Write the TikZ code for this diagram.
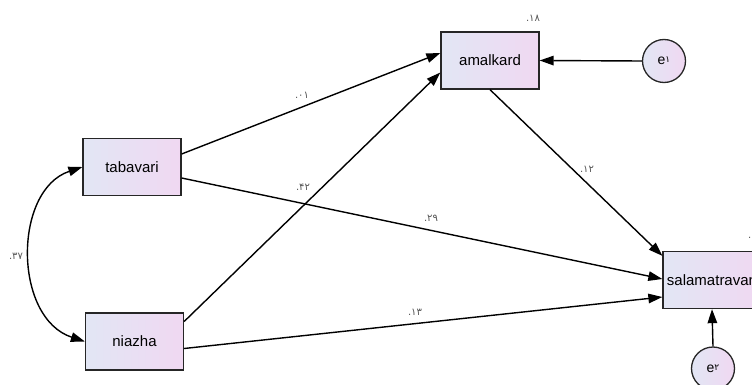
\documentclass[tikz,border=0pt]{standalone}
\usepackage{fontspec}
\setmainfont{Liberation Sans}
\newfontfamily\digfont{DejaVu Sans}
\usetikzlibrary{arrows.meta}
\definecolor{boxl}{HTML}{E2E6F4}
\definecolor{boxr}{HTML}{F0D8F2}
\definecolor{labgray}{HTML}{555555}
\begin{document}
\begin{tikzpicture}[x=1pt,y=-1pt,
  var/.style={draw=black!85,line width=1.3pt,minimum width=98pt,minimum height=57pt,inner sep=0pt,
    left color=boxl,right color=boxr,font=\fontsize{15}{15}\selectfont},
  err/.style={circle,draw=black!85,line width=1.3pt,minimum size=43pt,inner sep=0pt,
    left color=boxl,right color=boxr,font=\fontsize{14}{14}\selectfont},
  arr/.style={line width=1.4pt,-{Triangle[length=14pt,width=9.5pt]}},
  darr/.style={line width=1.4pt,{Triangle[length=14pt,width=9.5pt]}-{Triangle[length=14pt,width=9.5pt]}},
  coef/.style={text=labgray,font=\digfont\fontsize{10}{10}\selectfont,inner sep=0pt}]
\useasboundingbox (0,0) rectangle (752,385);

\node[var] (amal) at (490,60.5) {amalkard};
\node[var] (tab) at (132,167) {tabavari};
\node[var] (nia) at (134.5,341.5) {niazha};
\node[var] (sal) at (712,280) {salamatravan};
\node[err] (e1) at (664,61) {e\raisebox{2pt}{\digfont\fontsize{9}{9}\selectfont ۱}};
\node[err] (e2) at (713,368.5) {e\raisebox{2pt}{\digfont\fontsize{9}{9}\selectfont ۲}};

\draw[arr] ([yshift=13pt]tab.east) -- ([yshift=7.5pt]amal.west);
\draw[arr] ([yshift=20pt]nia.east) -- ([yshift=-12pt]amal.west);
\draw[arr] ([yshift=-11pt]tab.east) -- ([yshift=1pt]sal.west);
\draw[arr] ([yshift=-7pt]nia.east) -- ([yshift=-17pt]sal.west);
\draw[arr] (amal.south) -- ([yshift=-5pt]sal.north west);
\draw[arr] (e1.west) -- (amal.east);
\draw[arr] (e2.north) -- (sal.south);
\draw[darr] (tab.west) .. controls (13,190) and (13,318) .. (nia.west);

\node[coef] (l18) at (533,18) {.۱۸};
\node[coef] (l01) at (302,95) {.۰۱};
\node[coef] (l42) at (303,187) {.۴۲};
\node[coef] (l29) at (431,218) {.۲۹};
\node[coef] (l12) at (587,169) {.۱۲};
\node[coef] (l13) at (415,312) {.۱۳};
\node[coef] (l37) at (16,256) {.۳۷};
\node[coef,anchor=west] (lsal) at (748,238) {.};
\end{tikzpicture}
\end{document}
